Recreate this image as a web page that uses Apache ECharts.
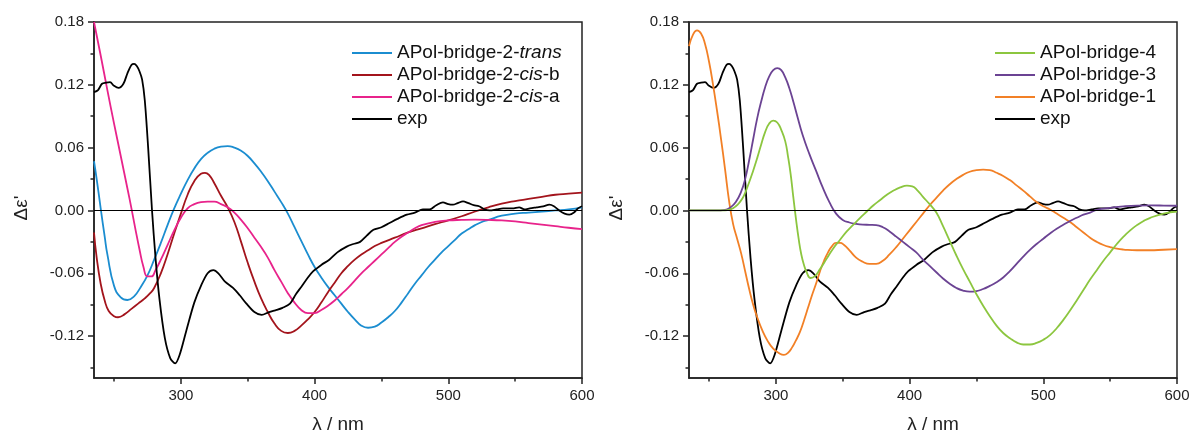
<!DOCTYPE html>
<html><head><meta charset="utf-8">
<script src="https://cdn.jsdelivr.net/npm/echarts@6/dist/echarts.min.js"></script>
<style>html,body{margin:0;padding:0;background:#fff}#c{width:1194px;height:432px}</style>
</head><body><div id="c"></div>
<script>
// ---- tick labels ----
const xTicks = [300, 400, 500, 600];
const xTickLabels = ['300', '400', '500', '600'];
const xMinorTicks = [250, 350, 450, 550];
const yTicks = [-0.12, -0.06, 0, 0.06, 0.12, 0.18];
const yTickLabels = ['-0.12', '-0.06', '0.00', '0.06', '0.12', '0.18'];
const yMinorTicks = [-0.15, -0.09, -0.03, 0.03, 0.09, 0.15];

// ---- experimental ----
const wlExp = [235,238,241,244,247,250,253.4,257,260,263,265,267,269,271,273,275.5,278.4,281,284,288,292,295.7,299,304,310,315,320,324.3,328,333,339,344,349,355,360.4,366,371.6,376,381.6,386,390,395,399,405,411,417,424,429,434,439,444,450,456,462,469,475,481,486,491,496,500,503.5,507,511,515,519,523,527,531,536,541,548,553,557,561,566,571,575.6,579,583,587,590.5,594,597,600];
const epsExp = [0.113,0.115,0.121,0.122,0.1225,0.119,0.117,0.121,0.131,0.139,0.140,0.138,0.133,0.125,0.105,0.060,0.0,-0.045,-0.085,-0.122,-0.141,-0.146,-0.138,-0.115,-0.088,-0.072,-0.060,-0.057,-0.060,-0.068,-0.074,-0.081,-0.089,-0.097,-0.0998,-0.097,-0.095,-0.093,-0.089,-0.080,-0.073,-0.064,-0.058,-0.052,-0.047,-0.040,-0.0345,-0.032,-0.030,-0.024,-0.0185,-0.016,-0.012,-0.008,-0.004,-0.002,0.001,0.001,0.005,0.0077,0.006,0.0055,0.007,0.0086,0.007,0.005,0.004,0.001,0.0,0.001,0.002,0.002,0.003,0.001,0.002,0.003,0.004,0.0055,0.004,0.0,-0.003,-0.004,-0.002,0.002,0.004];

// ---- left panel ----
const wlTrans = [235,237,240,243,245,250,255,260,265,270,275,280,285,290,295,300,305,310,315,320,325,330,335,340,345,350,355,360,365,370,375,380,385,390,395,400,405,410,415,420,425,430,435,440,445,450,455,460,465,470,475,480,485,490,495,500,505,510,515,520,525,530,540,550,560,570,580,590,600];
const epsTrans = [0.047,0.030,0.002,-0.025,-0.042,-0.072,-0.083,-0.0855,-0.082,-0.073,-0.062,-0.047,-0.031,-0.014,0.002,0.016,0.029,0.040,0.049,0.055,0.059,0.061,0.0615,0.060,0.057,0.052,0.045,0.037,0.028,0.018,0.008,-0.003,-0.016,-0.029,-0.042,-0.054,-0.064,-0.073,-0.081,-0.089,-0.097,-0.104,-0.110,-0.112,-0.111,-0.107,-0.102,-0.096,-0.088,-0.079,-0.070,-0.062,-0.054,-0.047,-0.040,-0.034,-0.028,-0.022,-0.018,-0.014,-0.011,-0.009,-0.005,-0.003,-0.002,-0.001,0.000,0.001,0.003];

const wlCisB = [235,237,240,243,246,250,253,258,263,268,273,277,280,285,290,295,300,305,310,315,318,321,325,330,335,340,345,350,355,360,365,370,375,380,385,390,395,400,405,410,415,420,425,430,435,440,445,450,460,470,480,490,500,510,520,530,540,550,560,570,580,590,600];
const epsCisB = [-0.021,-0.045,-0.070,-0.086,-0.096,-0.101,-0.102,-0.099,-0.094,-0.089,-0.084,-0.079,-0.074,-0.060,-0.042,-0.022,-0.003,0.015,0.028,0.035,0.036,0.034,0.026,0.014,0.003,-0.011,-0.030,-0.050,-0.068,-0.084,-0.097,-0.108,-0.115,-0.117,-0.115,-0.110,-0.104,-0.097,-0.088,-0.078,-0.069,-0.060,-0.053,-0.047,-0.042,-0.038,-0.034,-0.031,-0.026,-0.021,-0.017,-0.013,-0.0095,-0.0055,-0.001,0.003,0.0065,0.009,0.011,0.013,0.015,0.016,0.017];

const wlCisA = [235,240,245,250,255,260,263,266,269,272,275,278,281,285,290,295,300,305,310,315,320,325,330,335,340,345,350,355,360,365,370,375,380,385,390,395,400,405,410,415,420,425,430,435,440,445,450,455,460,465,470,475,480,490,500,510,520,530,540,550,560,570,580,590,600];
const epsCisA = [0.180,0.148,0.115,0.083,0.052,0.021,0.002,-0.018,-0.037,-0.054,-0.063,-0.063,-0.057,-0.047,-0.033,-0.019,-0.007,0.002,0.006,0.008,0.0085,0.0085,0.006,0.003,-0.002,-0.009,-0.017,-0.026,-0.035,-0.045,-0.057,-0.068,-0.079,-0.088,-0.095,-0.098,-0.098,-0.095,-0.091,-0.086,-0.080,-0.074,-0.067,-0.060,-0.054,-0.048,-0.042,-0.036,-0.030,-0.025,-0.021,-0.017,-0.014,-0.011,-0.0095,-0.009,-0.0088,-0.009,-0.0095,-0.0105,-0.012,-0.0135,-0.015,-0.0165,-0.0178];

// ---- right panel ----
const wlB4 = [235,245,255,262,266,270,273,276,280,283,286,289,292,295,298,301,304,307,309,311,313,315,317,319,321,323,326,329,333,338,343,348,353,358,363,368,373,378,383,388,393,398,402,406,410,415,420,425,430,435,440,445,450,455,460,465,470,475,480,485,490,495,500,505,510,515,520,525,530,535,540,545,550,555,560,565,570,575,580,590,600];
const epsB4 = [0,0,0,0,0.001,0.004,0.008,0.014,0.027,0.038,0.050,0.063,0.075,0.083,0.0858,0.084,0.077,0.066,0.052,0.035,0.013,-0.008,-0.027,-0.042,-0.052,-0.059,-0.0645,-0.063,-0.056,-0.046,-0.036,-0.028,-0.020,-0.0135,-0.007,-0.001,0.005,0.010,0.015,0.019,0.022,0.0237,0.023,0.019,0.013,0.006,-0.002,-0.015,-0.029,-0.043,-0.056,-0.068,-0.080,-0.091,-0.101,-0.110,-0.117,-0.122,-0.126,-0.128,-0.128,-0.1265,-0.1235,-0.119,-0.1125,-0.1045,-0.0955,-0.086,-0.076,-0.066,-0.057,-0.048,-0.040,-0.032,-0.025,-0.019,-0.014,-0.010,-0.007,-0.003,-0.001];

const wlB3 = [235,255,262,266,270,274,277,280,283,286,289,292,295,298,301,304,307,310,313,316,320,325,330,335,340,345,350,355,360,365,370,375,380,385,390,395,400,405,410,415,420,425,430,435,440,445,450,455,460,465,470,475,480,485,490,495,500,505,510,515,520,525,530,535,540,550,560,570,580,590,600];
const epsB3 = [0,0,0.0005,0.003,0.008,0.018,0.030,0.048,0.068,0.088,0.104,0.118,0.128,0.134,0.136,0.134,0.127,0.117,0.104,0.090,0.072,0.054,0.038,0.022,0.008,-0.003,-0.009,-0.0115,-0.0128,-0.0135,-0.0137,-0.014,-0.016,-0.020,-0.025,-0.030,-0.035,-0.040,-0.047,-0.053,-0.059,-0.065,-0.070,-0.074,-0.0765,-0.0775,-0.077,-0.075,-0.072,-0.0685,-0.064,-0.058,-0.051,-0.044,-0.0376,-0.032,-0.027,-0.022,-0.0175,-0.0137,-0.010,-0.007,-0.004,-0.002,0.0005,0.0025,0.004,0.0047,0.0048,0.0047,0.0045];

const wlB1 = [235,238,241,244,247,250,253,256,259,262,265,268,271,274,277,280,283,286,290,294,298,302,306,309,312,315,318,321,324,327,330,333,336,339,342,345,348,351,355,360,365,370,375,380,385,390,395,400,405,410,415,420,425,430,435,440,445,450,455,460,465,470,475,480,485,490,495,500,505,510,515,520,525,530,535,540,545,550,555,560,570,580,590,600];
const epsB1 = [0.157,0.168,0.172,0.169,0.159,0.142,0.120,0.095,0.068,0.039,0.009,-0.013,-0.027,-0.041,-0.058,-0.075,-0.090,-0.102,-0.115,-0.125,-0.132,-0.136,-0.138,-0.136,-0.131,-0.124,-0.116,-0.105,-0.093,-0.081,-0.070,-0.058,-0.048,-0.040,-0.034,-0.031,-0.031,-0.033,-0.038,-0.045,-0.049,-0.051,-0.051,-0.048,-0.042,-0.035,-0.027,-0.019,-0.011,-0.003,0.005,0.012,0.019,0.025,0.030,0.034,0.037,0.0385,0.039,0.0385,0.036,0.033,0.029,0.024,0.019,0.0134,0.008,0.004,0.001,-0.003,-0.007,-0.011,-0.016,-0.021,-0.026,-0.030,-0.033,-0.035,-0.0365,-0.0373,-0.038,-0.038,-0.0375,-0.037];

// ---- names ----
const leftNames = ['APol-bridge-2-trans', 'APol-bridge-2-cis-b', 'APol-bridge-2-cis-a', 'exp'];
const rightNames = ['APol-bridge-4', 'APol-bridge-3', 'APol-bridge-1', 'exp'];
const legendRich = {
  'APol-bridge-2-trans': '{n|APol-bridge-2-}{i|trans}',
  'APol-bridge-2-cis-b': '{n|APol-bridge-2-}{i|cis}{n|-b}',
  'APol-bridge-2-cis-a': '{n|APol-bridge-2-}{i|cis}{n|-a}'
};

const FONT = "'Liberation Sans', Arial, sans-serif";
const AX = '#222';
const pair = (xs, ys) => xs.map((x, i) => [x, ys[i]]);
const nearestLabel = (vals, labels, v) => {
  let bi = 0, bd = Infinity;
  vals.forEach((t, i) => { const d = Math.abs(t - v); if (d < bd) { bd = d; bi = i; } });
  return labels[bi];
};

function xAxes(g) {
  return [
    { gridIndex: g, type: 'value', min: 235, max: 600, position: 'bottom',
      axisLine: { show: true, onZero: false, lineStyle: { color: AX, width: 1.5 } },
      axisTick: { show: true, customValues: xTicks, length: 6, lineStyle: { color: AX, width: 1.5 } },
      axisLabel: { customValues: xTicks, fontSize: 15, color: AX, margin: 10, fontFamily: FONT,
        formatter: v => nearestLabel(xTicks, xTickLabels, v) },
      splitLine: { show: false },
      name: 'λ / nm', nameLocation: 'middle', nameGap: 37,
      nameTextStyle: { fontSize: 19, color: AX, fontFamily: FONT } },
    { gridIndex: g, type: 'value', min: 235, max: 600, position: 'bottom',
      axisLine: { show: false, onZero: false },
      axisTick: { show: true, customValues: xMinorTicks, length: 3.5, lineStyle: { color: AX, width: 1.5 } },
      axisLabel: { show: false }, splitLine: { show: false } }
  ];
}
function yAxes(g) {
  return [
    { gridIndex: g, type: 'value', min: -0.16, max: 0.18, position: 'left',
      axisLine: { show: true, onZero: false, lineStyle: { color: AX, width: 1.5 } },
      axisTick: { show: true, customValues: yTicks, length: 6, lineStyle: { color: AX, width: 1.5 } },
      axisLabel: { customValues: yTicks, fontSize: 15, color: AX, margin: 10, fontFamily: FONT,
        formatter: v => nearestLabel(yTicks, yTickLabels, v) },
      splitLine: { show: false },
      name: "Δε'", nameLocation: 'middle', nameGap: 63, nameRotate: 90,
      nameTextStyle: { fontSize: 19, color: AX, fontFamily: FONT, padding: [0, 16, 0, 0] } },
    { gridIndex: g, type: 'value', min: -0.16, max: 0.18, position: 'left',
      axisLine: { show: false, onZero: false },
      axisTick: { show: true, customValues: yMinorTicks, length: 3.5, lineStyle: { color: AX, width: 1.5 } },
      axisLabel: { show: false }, splitLine: { show: false } }
  ];
}

function line(name, xs, ys, color, g, extra) {
  return Object.assign({
    name, type: 'line', xAxisIndex: g * 2, yAxisIndex: g * 2,
    data: pair(xs, ys), showSymbol: false, smooth: 0.5,
    lineStyle: { color, width: 1.8 }, itemStyle: { color }
  }, extra || {});
}
const zeroLine = {
  silent: true, symbol: 'none', label: { show: false },
  lineStyle: { color: '#000', width: 1, type: 'solid' },
  data: [{ yAxis: 0 }]
};

const legendCommon = {
  orient: 'vertical', icon: 'rect', itemWidth: 40, itemHeight: 2, itemGap: 0,
  selectedMode: false,
  textStyle: { fontSize: 19, lineHeight: 22, color: '#111', fontFamily: FONT,
    rich: { n: { fontSize: 19, fontFamily: FONT, color: '#111' },
            i: { fontSize: 19, fontFamily: FONT, fontStyle: 'italic', color: '#111' } } },
  formatter: name => legendRich[name] || name
};

const option = {
  animation: false,
  backgroundColor: '#fff',
  grid: [
    { left: 94, top: 22, width: 488, height: 356, show: true, borderColor: AX, borderWidth: 1.5,
      outerBoundsMode: 'none', containLabel: false },
    { left: 689, top: 22, width: 488, height: 356, show: true, borderColor: AX, borderWidth: 1.5,
      outerBoundsMode: 'none', containLabel: false }
  ],
  xAxis: [...xAxes(0), ...xAxes(1)],
  yAxis: [...yAxes(0), ...yAxes(1)],
  legend: [
    Object.assign({ left: 347, top: 37, data: leftNames }, legendCommon),
    Object.assign({ left: 990, top: 37, data: rightNames }, legendCommon)
  ],
  series: [
    line(leftNames[0], wlTrans, epsTrans, '#1b8dd0', 0),
    line(leftNames[1], wlCisB, epsCisB, '#a3141c', 0),
    line(leftNames[2], wlCisA, epsCisA, '#e8238b', 0),
    line('exp', wlExp, epsExp, '#000000', 0, { smooth: 0.3, markLine: zeroLine }),
    line('exp', wlExp, epsExp, '#000000', 1, { smooth: 0.3, markLine: zeroLine }),
    line(rightNames[2], wlB1, epsB1, '#f28026', 1),
    line(rightNames[1], wlB3, epsB3, '#6b4393', 1),
    line(rightNames[0], wlB4, epsB4, '#8cc63f', 1)
  ]
};
const chart = echarts.init(document.getElementById('c'), null, { renderer: 'canvas' });
chart.setOption(option);
</script></body></html>
